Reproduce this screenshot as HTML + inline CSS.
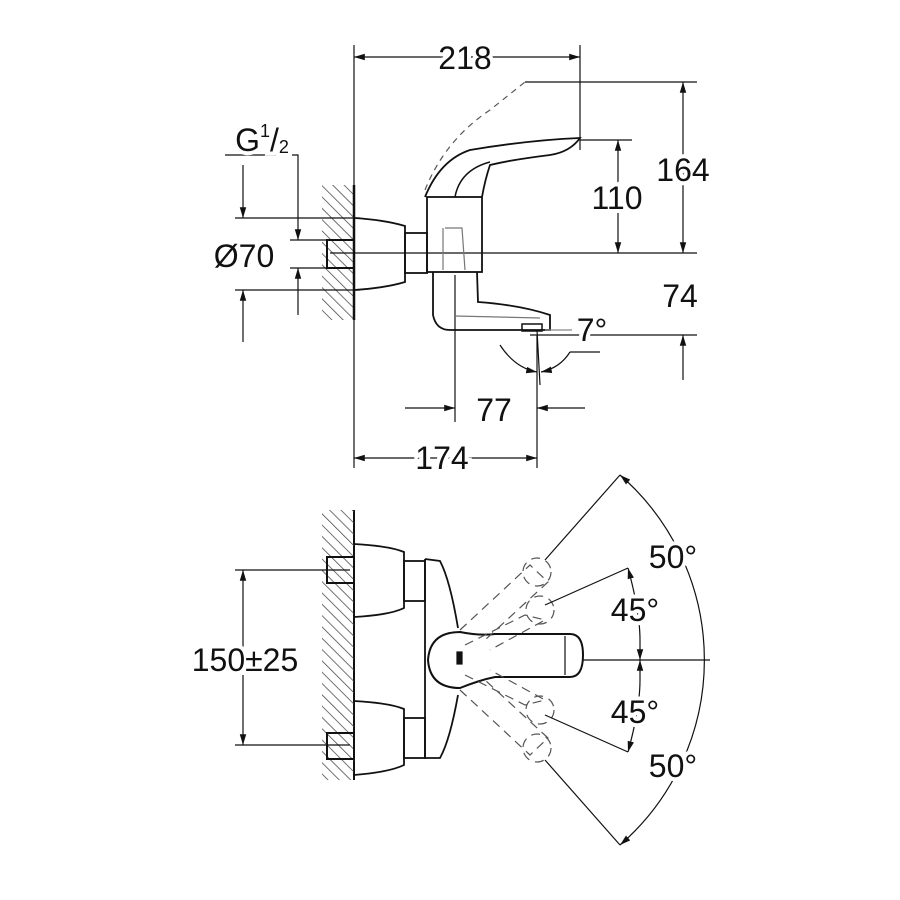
<!DOCTYPE html>
<html><head><style>html,body{margin:0;padding:0;background:#fff}svg{display:block}text{font-family:"Liberation Sans",sans-serif;font-size:32px;fill:#111;text-anchor:middle;dominant-baseline:central;paint-order:stroke;stroke:#fff;stroke-width:8px}</style></head><body>
<svg width="900" height="900" viewBox="0 0 900 900" xmlns="http://www.w3.org/2000/svg">
<defs>
<marker id="a" viewBox="0 0 10 10" refX="10" refY="5" markerWidth="9" markerHeight="9" orient="auto-start-reverse"><path d="M0,2 L10,5 L0,8z" fill="#111"/></marker>
<pattern id="h" width="8" height="8" patternUnits="userSpaceOnUse" patternTransform="rotate(-45)"><line x1="0" y1="0" x2="0" y2="8" stroke="#444" stroke-width="1.5"/></pattern>
</defs>
<g stroke="#111" stroke-width="1.2" fill="none">
<line x1="354" y1="45" x2="354" y2="468"/>
<rect x="322" y="185" width="32" height="135" fill="url(#h)" stroke="none"/>
<line x1="354" y1="185" x2="354" y2="320" stroke-width="2.5"/>
<line x1="580" y1="45" x2="580" y2="150"/>
<line x1="354" y1="57" x2="580" y2="57" marker-start="url(#a)" marker-end="url(#a)"/>
<line x1="525" y1="82" x2="697" y2="82"/>
<line x1="580" y1="140" x2="632" y2="140"/>
<line x1="330" y1="253" x2="697" y2="253"/>
<line x1="530" y1="335" x2="697" y2="335"/>
<line x1="683" y1="82" x2="683" y2="253" marker-start="url(#a)" marker-end="url(#a)"/>
<line x1="618" y1="140" x2="618" y2="253" marker-start="url(#a)" marker-end="url(#a)"/>
<line x1="683" y1="380" x2="683" y2="335" marker-end="url(#a)"/>
<line x1="455" y1="275" x2="455" y2="422"/>
<line x1="537" y1="335" x2="537" y2="468"/>
<line x1="405" y1="408" x2="455" y2="408" marker-end="url(#a)"/>
<line x1="585" y1="408" x2="537" y2="408" marker-end="url(#a)"/>
<line x1="354" y1="458" x2="537" y2="458" marker-start="url(#a)" marker-end="url(#a)"/>
<polyline points="225,155 298,155 298,240" marker-end="url(#a)"/>
<line x1="298" y1="315" x2="298" y2="268" marker-end="url(#a)"/>
<line x1="243" y1="165" x2="243" y2="218" marker-end="url(#a)"/>
<line x1="243" y1="342" x2="243" y2="290" marker-end="url(#a)"/>
<line x1="235" y1="218" x2="360" y2="218"/>
<line x1="235" y1="290" x2="360" y2="290"/>
<line x1="290" y1="240" x2="330" y2="240"/>
<line x1="290" y1="268" x2="330" y2="268"/>
<rect x="327" y="240" width="27" height="28" stroke-width="2"/>
<path d="M354,218 Q385,220 405,226 L405,282 Q385,288 354,290" stroke-width="1.8"/>
<rect x="405" y="233" width="22" height="40" stroke-width="1.8"/>
<rect x="427" y="197" width="55" height="75" stroke-width="1.8"/>
<path d="M445,228 L462,228 L465,270 M443,228 L443,270" stroke="#777"/>
<path d="M425,197 Q440,160 470,150 Q530,140 580,138 Q570,152 550,155 Q510,160 490,165 Q485,180 482,197" stroke-width="1.8"/>
<path d="M455,197 Q460,170 490,162" stroke-width="1.5"/>
<path d="M425,190 Q445,140 490,110 L525,82" stroke-dasharray="6,5" stroke="#555"/>
<path d="M433,272 L433,315 Q436,330 450,330 L550,330 L550,315 Q520,305 478,302 L477,272" stroke-width="1.8"/>
<rect x="522" y="324" width="20" height="7" stroke-width="1.5"/>
<line x1="455" y1="316" x2="540" y2="318" stroke="#777"/>
<line x1="545" y1="330" x2="572" y2="330" stroke="#888"/>
<line x1="537" y1="330" x2="540" y2="385"/>
<path d="M500,345 Q515,368 537,372" marker-end="url(#a)"/>
<path d="M570,352 Q560,368 541,372" marker-end="url(#a)"/>
<line x1="570" y1="352" x2="600" y2="352"/>
<line x1="354" y1="510" x2="354" y2="780" stroke-width="2"/>
<rect x="322" y="510" width="32" height="270" fill="url(#h)" stroke="none"/>
<rect x="327" y="557" width="27" height="26" stroke-width="2"/>
<rect x="327" y="733" width="27" height="26" stroke-width="2"/>
<line x1="235" y1="570" x2="350" y2="570"/>
<line x1="235" y1="745" x2="350" y2="745"/>
<line x1="243" y1="570" x2="243" y2="745" marker-start="url(#a)" marker-end="url(#a)"/>
<path d="M354,544 Q390,546 404,552 L404,608 Q390,615 354,617" stroke-width="1.8"/>
<path d="M354,701 Q390,703 404,709 L404,765 Q390,772 354,775" stroke-width="1.8"/>
<rect x="404" y="561" width="21" height="40" stroke-width="1.8"/>
<rect x="404" y="718" width="21" height="40" stroke-width="1.8"/>
<path d="M425,559 L425,758 L440,758 Q450,740 458,695 M458,628 Q450,580 440,561 L425,559" stroke-width="1.8"/>
<path d="M460,632 Q430,632 428,660 Q430,688 460,688 Q480,680 495,677 L570,677 Q583,677 583,655 Q583,634 570,634 L495,634 Q480,636 460,632Z" stroke-width="2"/>
<line x1="565" y1="636" x2="565" y2="675"/>
<rect x="457" y="652" width="5" height="12" fill="#111"/>
<line x1="583" y1="660" x2="710" y2="660"/>
<g stroke-dasharray="9,6" stroke="#555">
<path d="M460,630 L530,565 L548,582 L485,640"/>
<path d="M465,645 L525,615 L545,620 L490,650"/>
<path d="M460,690 L530,755 L548,738 L485,680"/>
<path d="M465,675 L525,705 L545,700 L490,670"/>
<circle cx="537" cy="572" r="14"/><circle cx="540" cy="610" r="14"/>
<circle cx="537" cy="748" r="14"/><circle cx="540" cy="710" r="14"/>
</g>
<line x1="545" y1="560" x2="620" y2="475"/>
<line x1="545" y1="760" x2="620" y2="845"/>
<line x1="545" y1="605" x2="628" y2="568"/>
<line x1="545" y1="715" x2="628" y2="752"/>
<path d="M620,475 A245,245 0 0 1 620,845" marker-start="url(#a)" marker-end="url(#a)"/>
<path d="M628,568 Q640,612 640,640" marker-start="url(#a)"/>
<path d="M628,752 Q640,708 640,680" marker-start="url(#a)"/>
<line x1="640" y1="640" x2="640" y2="660" marker-end="url(#a)"/>
<line x1="640" y1="680" x2="640" y2="660" marker-end="url(#a)"/>
</g>
<text x="465" y="58">218</text>
<text x="683" y="170">164</text>
<text x="617" y="198">110</text>
<text x="680" y="296">74</text>
<text x="592" y="330">7°</text>
<text x="494" y="410">77</text>
<text x="442" y="458">174</text>
<text x="262" y="140">G<tspan font-size="18" dy="-9">1</tspan><tspan font-size="32" dy="9">/</tspan><tspan font-size="18" dy="7">2</tspan></text>
<text x="244" y="256">Ø70</text>
<text x="245" y="660">150±25</text>
<text x="673" y="557">50°</text>
<text x="635" y="610">45°</text>
<text x="635" y="712">45°</text>
<text x="673" y="766">50°</text>
</svg>
</body></html>
